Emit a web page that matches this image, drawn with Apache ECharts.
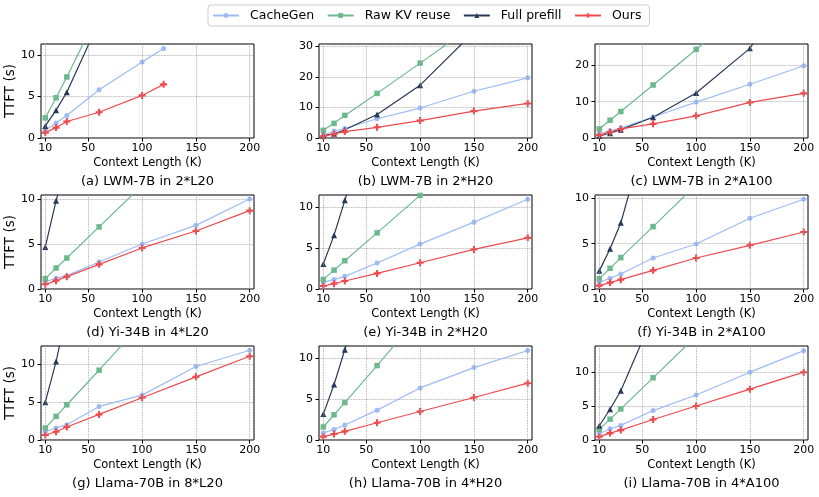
<!DOCTYPE html>
<html>
<head>
<meta charset="utf-8">
<script src="https://cdn.jsdelivr.net/npm/echarts@6/dist/echarts.min.js"></script>
<style>
    html, body { margin: 0; padding: 0; background: #fff; }
    #chart { width: 819px; height: 497px; }
</style>
</head>
<body>
<div id="chart"></div>
<script>
// context lengths (K) on the x axis
const ctxLen = [10, 20, 30, 60, 100, 150, 200];
const ctxLenA = [10, 20, 30, 60, 100, 120];   // panel (a) stops at 120K
const xTicks = [10, 50, 100, 150, 200];

const panelTitles = [
    '(a) LWM-7B in 2*L20', '(b) LWM-7B in 2*H20', '(c) LWM-7B in 2*A100',
    '(d) Yi-34B in 4*L20', '(e) Yi-34B in 2*H20', '(f) Yi-34B in 2*A100',
    '(g) Llama-70B in 8*L20', '(h) Llama-70B in 4*H20', '(i) Llama-70B in 4*A100'
];

// TTFT (s), one row per panel a..i
const cacheGen = [
    [0.93, 1.8, 2.7, 5.8, 9.15, 10.75],
    [1.0, 2.3, 3.1, 6.3, 9.8, 15.3, 19.7],
    [1.2, 2.0, 2.75, 5.8, 9.9, 14.8, 19.9],
    [0.8, 1.2, 1.48, 3.0, 5.0, 7.07, 10.0],
    [0.8, 1.17, 1.54, 3.16, 5.47, 8.14, 10.93],
    [0.74, 1.18, 1.65, 3.42, 4.96, 7.8, 9.9],
    [1.1, 1.59, 2.03, 4.45, 5.95, 9.74, 11.9],
    [0.86, 1.3, 1.84, 3.67, 6.4, 8.9, 11.0],
    [0.93, 1.66, 2.15, 4.34, 6.63, 10.0, 13.17]
];
const rawKv = [
    [2.42, 4.84, 7.34, 15.2],
    [2.5, 4.8, 7.4, 14.6, 24.5, 37],
    [2.5, 4.9, 7.3, 14.6, 24.4, 37],
    [1.15, 2.33, 3.44, 6.9, 11.5],
    [1.17, 2.3, 3.44, 6.84, 11.4, 17],
    [1.14, 2.28, 3.46, 6.88, 11.5],
    [1.59, 3.13, 4.67, 9.25, 15.5],
    [1.6, 3.1, 4.6, 9.14, 15.4],
    [1.56, 3.07, 4.59, 9.17, 15.3]
];
const fullPrefill = [
    [1.45, 3.35, 5.5, 14.0],
    [0.8, 1.4, 2.7, 7.7, 17.3, 34.7],
    [0.55, 1.3, 2.3, 5.7, 12.4, 24.7, 48],
    [4.67, 9.8, 14.1],
    [3.04, 6.56, 10.8, 23],
    [2.0, 4.45, 7.3, 20],
    [5.02, 10.4, 17],
    [3.18, 6.82, 11.1, 24],
    [2.1, 4.54, 7.27, 18.3]
];
const ours = [
    [0.65, 1.25, 1.98, 3.1, 5.12, 6.45],
    [0.55, 1.3, 2.1, 3.5, 5.7, 8.8, 11.3],
    [0.8, 1.65, 2.5, 3.9, 6.1, 9.8, 12.3],
    [0.52, 0.93, 1.37, 2.74, 4.56, 6.44, 8.7],
    [0.36, 0.65, 0.97, 1.9, 3.2, 4.82, 6.23],
    [0.37, 0.7, 1.03, 2.06, 3.42, 4.82, 6.29],
    [0.66, 1.1, 1.72, 3.39, 5.6, 8.37, 11.1],
    [0.41, 0.73, 1.06, 2.12, 3.5, 5.22, 6.98],
    [0.49, 1.02, 1.46, 3.02, 5.02, 7.5, 10.0]
];

const yTicks = [
    [0, 5, 10], [0, 10, 20, 30], [0, 10, 20],
    [0, 5, 10], [0, 5, 10], [0, 5, 10],
    [0, 5, 10], [0, 5, 10], [0, 5, 10]
];
const yMax = [11.3, 30.76, 25.9, 10.44, 11.45, 10.37, 12.46, 11.55, 13.86];

const FONT = 'DejaVu Sans';
const plusPath = 'path://M3.5,0 H6.5 V3.5 H10 V6.5 H6.5 V10 H3.5 V6.5 H0 V3.5 H3.5 Z';
const styles = [
    {name: 'CacheGen', color: '#9dbcf6', symbol: 'circle', size: 5, vals: cacheGen},
    {name: 'Raw KV reuse', color: '#6cb98e', symbol: 'rect', size: 5.5, vals: rawKv},
    {name: 'Full prefill', color: '#273858', symbol: 'triangle', size: 6, vals: fullPrefill},
    {name: 'Ours', color: '#ee4a4e', symbol: plusPath, size: 7, vals: ours}
];

const colLeft = [41, 319, 595];
const rowTop = [44, 195, 346];
const gridW = 213, gridH = 94;

let grids = [], xAxes = [], yAxes = [], series = [], graphics = [];

for (let p = 0; p < 9; p++) {
    const r = Math.floor(p / 3), c = p % 3;
    const xs = p === 0 ? ctxLenA : ctxLen;
    grids.push({
        left: colLeft[c], top: rowTop[r], width: gridW, height: gridH,
        show: true, borderColor: '#000', borderWidth: 1, backgroundColor: 'transparent'
    });
    xAxes.push({
        type: 'value', gridIndex: p, min: 6, max: 204,
        name: 'Context Length (K)', nameLocation: 'middle', nameGap: 19,
        nameTextStyle: {fontFamily: FONT, fontSize: 11.5, color: '#000'},
        axisLine: {show: false},
        axisTick: {show: true, inside: false, length: 3.5, customValues: xTicks, lineStyle: {color: '#000'}},
        axisLabel: {customValues: xTicks, margin: 5, fontFamily: FONT, fontSize: 11, color: '#000'},
        splitLine: {show: false}
    });
    yAxes.push({
        type: 'value', gridIndex: p, min: 0, max: yMax[p],
        name: c === 0 ? 'TTFT (s)' : '', nameLocation: 'middle', nameGap: 21,
        nameTextStyle: {fontFamily: FONT, fontSize: 13.5, color: '#000'},
        axisLine: {show: false},
        axisTick: {show: true, length: 3.5, customValues: yTicks[p], lineStyle: {color: '#000'}},
        axisLabel: {customValues: yTicks[p], margin: 6, fontFamily: FONT, fontSize: 11, color: '#000'},
        splitLine: {show: true, lineStyle: {type: 'dotted', color: '#9a9a9a', width: 0.8}}
    });
    // dotted vertical grid lines at the x ticks, kept under the data
    series.push({
        type: 'line', xAxisIndex: p, yAxisIndex: p, data: [], z: 1, silent: true,
        markLine: {
            silent: true, symbol: ['none', 'none'], label: {show: false}, animation: false,
            lineStyle: {type: 'dotted', color: '#9a9a9a', width: 0.8},
            data: xTicks.map(v => ({xAxis: v}))
        }
    });
    styles.forEach(s => {
        series.push({
            name: s.name, type: 'line', xAxisIndex: p, yAxisIndex: p,
            data: s.vals[p].map((v, i) => [xs[i], v]),
            symbol: s.symbol, symbolSize: s.size, clip: true,
            lineStyle: {color: s.color, width: 1.2},
            itemStyle: {color: s.color},
            animation: false, z: 3
        });
    });
    graphics.push({
        type: 'text', x: colLeft[c] + gridW / 2, y: rowTop[r] + gridH + 44,
        style: {text: panelTitles[p], fontFamily: FONT, fontSize: 13, fill: '#000', align: 'center', verticalAlign: 'middle'}
    });
}

const option = {
    animation: false,
    legend: {
        data: styles.map(s => s.name),
        left: 208, top: 5,
        padding: [4, 8, 4, 4],
        itemWidth: 26, itemHeight: 6, itemGap: 12.5,
        borderColor: '#cccccc', borderWidth: 1, borderRadius: 3,
        textStyle: {fontFamily: FONT, fontSize: 12.5, color: '#000', padding: [0, 0, 0, 6]}
    },
    grid: grids,
    xAxis: xAxes,
    yAxis: yAxes,
    series: series,
    graphic: graphics
};

const myChart = echarts.init(document.getElementById('chart'));
myChart.setOption(option);
</script>
</body>
</html>
